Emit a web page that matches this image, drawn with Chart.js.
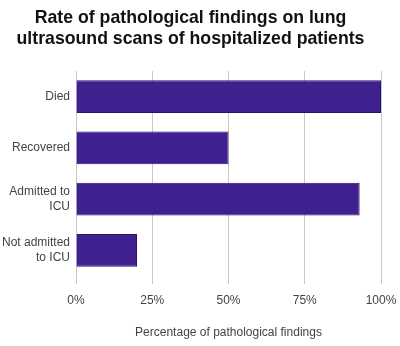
<!DOCTYPE html>
<html><head><meta charset="utf-8">
<script src="https://cdn.jsdelivr.net/npm/chart.js@4"></script>
<style>html,body{margin:0;padding:0;background:#fff}#wrap{width:400px;height:346px}</style>
</head><body><div id="wrap"><canvas id="c"></canvas></div>
<script>
const categories = [["Died"], ["Recovered"], ["Admitted to", "ICU"], ["Not admitted", "to ICU"]];
const values = [100, 50, 93, 20];
const tickValues = [0, 25, 50, 75, 100];
const titleLines = ["Rate of pathological findings on lung", "ultrasound scans of hospitalized patients"];
const xTitle = "Percentage of pathological findings";

new Chart(document.getElementById('c'), {
  type: 'bar',
  data: {
    labels: categories,
    datasets: [{
      data: values,
      backgroundColor: 'rgb(64,31,143)',
      borderColor: 'rgb(36,20,110)',
      borderWidth: 1,
      barPercentage: 0.8,
      categoryPercentage: 0.8
    }]
  },
  options: {
    indexAxis: 'y',
    responsive: true,
    maintainAspectRatio: false,
    animation: false,
    layout: { padding: { left: 0, right: 19, top: 0, bottom: 0 } },
    plugins: {
      legend: { display: false },
      tooltip: { enabled: false },
      title: {
        display: true,
        text: titleLines,
        color: '#111',
        font: { family: 'Arial, "Liberation Sans", sans-serif', size: 17.7, weight: 'bold', lineHeight: 1.2 },
        padding: { top: 7, bottom: 21.6 }
      }
    },
    scales: {
      x: {
        min: 0, max: 100,
        afterBuildTicks: (s) => { s.ticks = tickValues.map(v => ({ value: v })); },
        afterFit: (s) => { s.height = 70; s.paddingRight = 0; s.paddingLeft = 0; },
        grid: { color: '#c8c8c8', lineWidth: 1, drawTicks: true, tickLength: 8 },
        border: { display: false },
        ticks: {
          color: '#444',
          padding: 9,
          font: { family: 'Arial, "Liberation Sans", sans-serif', size: 12 },
          callback: (v) => v + '%'
        },
        title: {
          display: true,
          text: xTitle,
          color: '#444',
          font: { family: 'Arial, "Liberation Sans", sans-serif', size: 12 },
          padding: { top: 0, bottom: 6 }
        }
      },
      y: {
        afterFit: (s) => { s.width = 76; },
        grid: { display: false, drawTicks: false },
        border: { display: false },
        ticks: {
          color: '#444',
          padding: 6,
          font: { family: 'Arial, "Liberation Sans", sans-serif', size: 12 }
        }
      }
    }
  }
});
</script></body></html>
